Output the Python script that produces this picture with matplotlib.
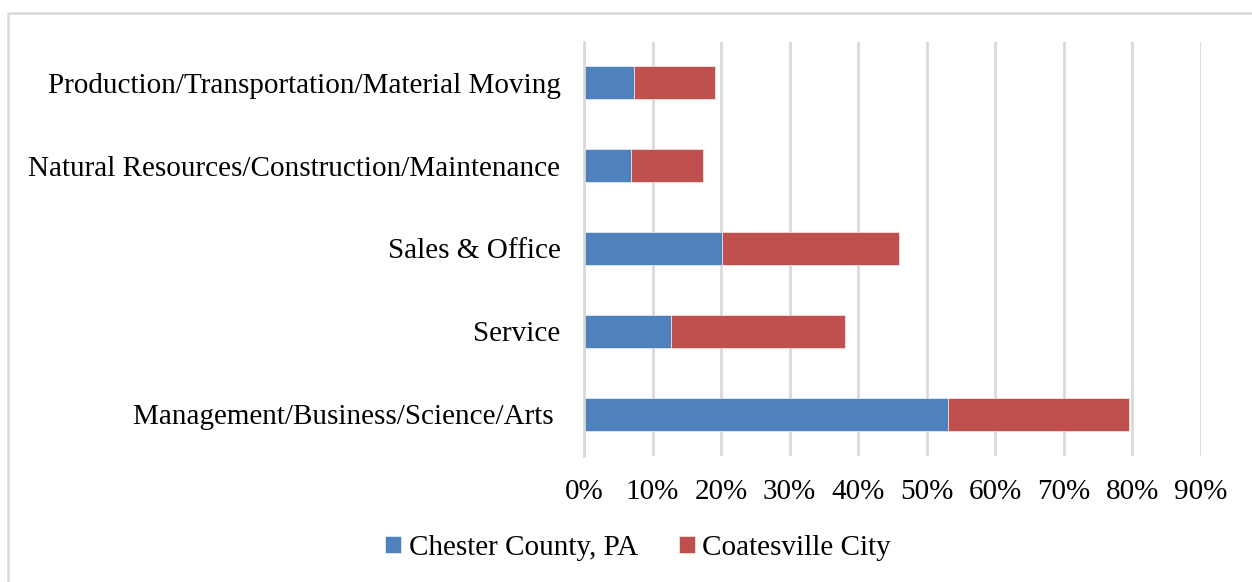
import matplotlib
matplotlib.use("Agg")
import matplotlib.pyplot as plt
from matplotlib.lines import Line2D
from matplotlib.ticker import PercentFormatter, MultipleLocator

categories = [
    "Management/Business/Science/Arts ",
    "Service",
    "Sales & Office",
    "Natural Resources/Construction/Maintenance",
    "Production/Transportation/Material Moving",
]
chester_county = [53.1, 12.7, 20.1, 6.8, 7.3]
coatesville_city = [26.4, 25.4, 25.9, 10.5, 11.8]
series_names = ["Chester County, PA", "Coatesville City"]

BLUE = "#4F81BD"
RED = "#C0504D"
GRID = "#D9D9D9"
FS = 21

plt.rcParams["font.family"] = ["Liberation Serif", "DejaVu Serif"]

W, H = 1252, 582
fig = plt.figure(figsize=(W / 100, H / 100), dpi=100)

# chart frame: left and top edges
fx, fy = 8 / W, 1 - 13 / H
fig.lines.append(Line2D([fx, fx, 1.0], [0.0, fy, fy], transform=fig.transFigure,
                        color=GRID, linewidth=1.8))

ax = fig.add_axes([584 / W, 1 - 455.5 / H, (1201 - 584) / W, (455.5 - 41.5) / H])

y = list(range(len(categories)))
ax.barh(y, chester_county, height=0.4, color=BLUE, label=series_names[0],
        edgecolor="white", linewidth=0.4)
ax.barh(y, coatesville_city, left=chester_county, height=0.4, color=RED,
        label=series_names[1], edgecolor="white", linewidth=0.4)

ax.set_xlim(0, 90)
ax.set_ylim(-0.5, len(categories) - 0.5)
ax.xaxis.set_major_locator(MultipleLocator(10))
ax.xaxis.set_major_formatter(PercentFormatter(decimals=0))
ax.set_yticks(y)
ax.set_yticklabels(categories)

ax.grid(axis="x", color=GRID, linewidth=2)
ax.set_axisbelow(True)
for s in ["top", "right", "bottom"]:
    ax.spines[s].set_visible(False)
ax.spines["left"].set_color(GRID)
ax.spines["left"].set_linewidth(2)

ax.tick_params(axis="both", length=0, labelsize=FS, colors="#000000")
ax.tick_params(axis="y", pad=17)
ax.tick_params(axis="x", pad=17)

fig.legend(loc="center", bbox_to_anchor=(638 / W, 1 - 548 / H), ncol=2,
           frameon=False, fontsize=FS, handlelength=0.55, handleheight=0.55,
           handletextpad=0.25, columnspacing=1.4)

fig.savefig("out.png", dpi=100, facecolor="white")
